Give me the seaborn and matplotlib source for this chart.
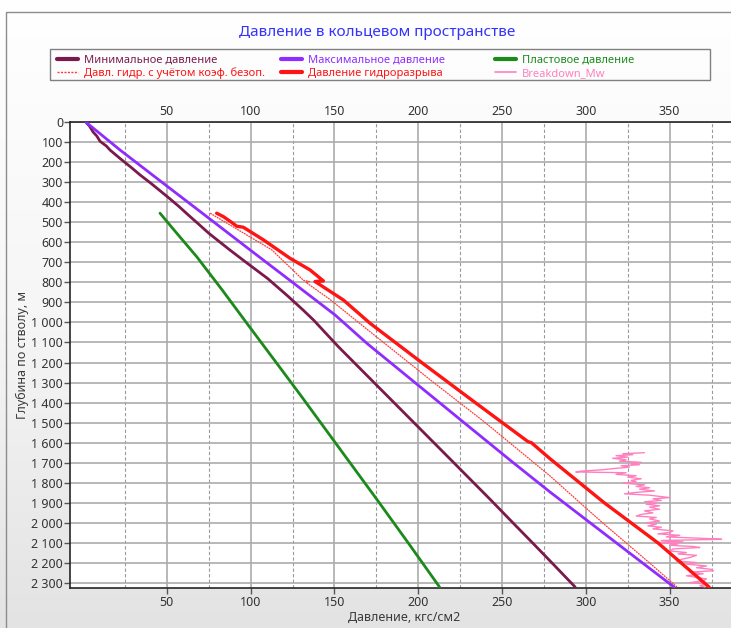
import numpy as np
import pandas as pd
import matplotlib
matplotlib.use("Agg")
import matplotlib.pyplot as plt
import seaborn as sns
from matplotlib.lines import Line2D
from matplotlib.patches import Rectangle
from matplotlib.colors import LinearSegmentedColormap
from matplotlib.ticker import FuncFormatter, MultipleLocator, FixedLocator

# -----------------------------
# data (depth along wellbore, m / pressure, kgf/cm2)
# -----------------------------
min_depth = [0, 20, 50, 70, 96, 120, 140, 185, 230, 264, 306, 340, 381, 420, 464, 510,
             555, 638, 705, 780, 871, 936, 988, 1121, 1300, 1500, 1700, 1882, 2000, 2100, 2200, 2320]
min_press = [1.6, 3.8, 6.0, 8.2, 10.1, 13.9, 16.1, 22.5, 29.2, 34.0, 40.5, 45.5, 51.5, 57.0,
             62.8, 69.0, 75.0, 87.5, 98.0, 110.0, 122.5, 131.0, 137.5, 152.3, 173.6, 197.4,
             221.2, 242.8, 256.5, 268.2, 279.8, 293.6]

max_depth = [0, 140, 306, 472, 638, 797, 963, 1104, 1300, 1500, 1700, 1846, 2000, 2200, 2320]
max_press = [1.6, 22.1, 47.9, 73.8, 99.6, 124.5, 150.4, 169.3, 198.0, 227.3, 256.7, 278.6,
             302.6, 333.8, 352.6]

plast_depth = [455, 555, 672, 838, 1004, 1137, 1360, 1600, 1882, 2100, 2320]
plast_press = [45.9, 55.9, 67.8, 83.0, 97.7, 109.6, 129.5, 150.5, 175.2, 194.0, 212.7]

hydr_depth = [455, 514, 638, 790, 796, 800, 886, 1046, 1300, 1500, 1766, 2000, 2200, 2320]
hydr_press = [75.8, 87.7, 112.6, 131.5, 135.0, 133.0, 147.4, 171.2, 209.2, 240.0, 278.6,
              310.0, 338.0, 354.4]

frac_depth = [455, 472, 500, 520, 525, 588, 680, 738, 793, 796, 888, 1004, 1200, 1400, 1595,
              1600, 1680, 1900, 2100, 2320]
frac_press = [79.7, 83.7, 88.5, 91.7, 95.6, 107.6, 123.5, 135.4, 143.4, 138.4, 155.3, 171.2,
              202.0, 234.0, 265.5, 267.5, 278.6, 311.0, 343.0, 373.5]

mw_depth = [1650, 1655, 1660, 1665, 1672, 1678, 1685, 1692, 1698, 1705, 1710, 1715, 1722, 1728,
            1735, 1742, 1746, 1750, 1758, 1765, 1772, 1780, 1788, 1795, 1802, 1810, 1818, 1825,
            1832, 1841, 1848, 1855, 1862, 1868, 1874, 1880, 1888, 1895, 1902, 1907, 1915, 1922,
            1932, 1940, 1950, 1958, 1966, 1973, 1980, 1991, 2000, 2007, 2015, 2022, 2030, 2040,
            2048, 2055, 2062, 2070, 2078, 2082, 2088, 2095, 2098, 2105, 2112, 2118, 2123, 2130,
            2140, 2148, 2155, 2162, 2173, 2180, 2190, 2198, 2206, 2215, 2224, 2232, 2239, 2246,
            2254, 2264, 2272, 2280, 2289, 2298, 2306, 2314, 2320]
mw_press = [335, 322, 328, 318, 325, 316, 324, 320, 333, 327, 332, 321, 326, 318,
            310, 297, 294, 324, 318, 330, 325, 333, 327, 330, 322, 335, 330, 338,
            332, 341, 330, 323, 338, 344, 350, 340, 345, 335, 342, 336, 344, 338,
            344, 335, 340, 333, 330, 342, 338, 344, 336, 342, 337, 345, 340, 352,
            350, 343, 356, 348, 372, 381, 345, 358, 342, 355, 350, 364, 368, 352,
            350, 360, 355, 366, 362, 358, 354, 366, 360, 372, 366, 375, 376, 362,
            370, 360, 366, 372, 370, 362, 372, 368, 371]

x_major = [50, 100, 150, 200, 250, 300, 350]
x_minor = [25, 75, 125, 175, 225, 275, 325, 375]

labels = ["Минимальное давление", "Давл. гидр. с учётом коэф. безоп.",
          "Максимальное давление", "Давление гидроразрыва",
          "Пластовое давление", "Breakdown_Mw"]
colors = {"min": "#7a1a4c", "max": "#8f2cff", "plast": "#1b8a1b",
          "hydr": "#ff3c3c", "frac": "#ff1414", "mw": "#ff80bf"}

# -----------------------------
# figure
# -----------------------------
sns.set_style("white")
plt.rcParams["font.family"] = ["Noto Sans", "DejaVu Sans"]

W, H = 731, 628
fig = plt.figure(figsize=(W / 100, H / 100), dpi=100)

# background gradient
bg = fig.add_axes([0, 0, 1, 1], zorder=-5)
cmap = LinearSegmentedColormap.from_list("bg", ["#ffffff", "#f6f6f6", "#e3e3e3"])
bg.imshow(np.linspace(0, 1, 256)[:, None], cmap=cmap, aspect="auto", extent=[0, 1, 0, 1])
bg.set_axis_off()

# outer border
fig.add_artist(Rectangle((5.5 / W, -0.05), 1.1, (H - 12) / H + 0.05, transform=fig.transFigure,
                         fill=False, edgecolor="#8c8c8c", lw=1.0))

AX_W = W - 70 + 7
ax = fig.add_axes([70 / W, (H - 588) / H, AX_W / W, (588 - 122) / H])
ax.set_facecolor("white")

series = [
    (min_press, min_depth, colors["min"], 2.0, "-"),
    (max_press, max_depth, colors["max"], 2.0, "-"),
    (plast_press, plast_depth, colors["plast"], 2.0, "-"),
    (mw_press, mw_depth, colors["mw"], 1.0, "-"),
    (hydr_press, hydr_depth, colors["hydr"], 0.9, (0, (1.5, 0.6))),
    (frac_press, frac_depth, colors["frac"], 2.4, "-"),
]
for xs, ys, c, lw, ls in series:
    d = pd.DataFrame({"p": xs, "z": ys})
    sns.lineplot(data=d, x="p", y="z", sort=False, estimator=None, color=c,
                 linewidth=lw, linestyle=ls, ax=ax, zorder=3)

ax.set_xlim(-7.8, -7.8 + AX_W / 1.676)
ax.set_ylim(2325, 0)

ax.xaxis.set_major_locator(FixedLocator(x_major))
ax.xaxis.set_minor_locator(FixedLocator(x_minor))
ax.yaxis.set_major_locator(MultipleLocator(100))
ax.yaxis.set_major_formatter(FuncFormatter(lambda v, p: f"{int(v):,}".replace(",", " ")))

ax.grid(True, which="major", axis="both", color="#ababab", lw=1.2, ls="-", zorder=0)
ax.grid(True, which="minor", axis="x", color="#999999", lw=0.8, ls=(0, (3, 2)), zorder=0)
ax.set_axisbelow(True)

ax.tick_params(axis="x", which="major", bottom=True, top=False, labeltop=False,
               length=4, width=1, color="#555555", pad=2, labelsize=9, labelcolor="#333333")
ax.tick_params(axis="x", which="minor", bottom=False, top=False)
ax.tick_params(axis="y", which="major", left=True, length=4, width=1, color="#555555",
               pad=1, labelsize=9, labelcolor="#333333")

# top labels
sec = ax.secondary_xaxis("top")
sec.set_xticks(x_major)
sec.tick_params(axis="x", length=0, pad=3, labelsize=9, labelcolor="#333333")
sec.spines["top"].set_visible(False)

for side in ["left", "bottom", "top"]:
    ax.spines[side].set_color("#262626")
    ax.spines[side].set_linewidth(1.2)
ax.spines["right"].set_visible(False)

ax.set_xlabel("Давление, кгс/см2", fontsize=9, color="#3a3a3a")
ax.set_ylabel("Глубина по стволу, м", fontsize=9, color="#3a3a3a")
ax.xaxis.set_label_coords(((346 + 462) / 2 - 70) / AX_W, -(611 - 588) / 466)
ax.yaxis.set_label_coords(-(70 - 29) / AX_W, 0.5)

# title
fig.text(377 / W, (H - 32) / H, "Давление в кольцевом пространстве", ha="center", va="center",
         fontsize=11, color="#3333ff")

# legend frame
fig.add_artist(Rectangle((50 / W, (H - 80) / H), 660 / W, 31 / H, transform=fig.transFigure,
                         fill=False, edgecolor="#808080", lw=1.0))

handles = [
    Line2D([], [], color=colors["min"], lw=3),
    Line2D([], [], color=colors["hydr"], lw=1, ls=(0, (1.5, 1))),
    Line2D([], [], color=colors["max"], lw=3),
    Line2D([], [], color=colors["frac"], lw=3),
    Line2D([], [], color=colors["plast"], lw=3),
    Line2D([], [], color=colors["mw"], lw=1.2),
]
text_colors = [colors["min"], "#ff1414", colors["max"], "#ff1414", colors["plast"], colors["mw"]]
col_x = [57, 281, 495]
for i in range(3):
    fig.legend(handles[2 * i:2 * i + 2], labels[2 * i:2 * i + 2], loc="upper left",
               bbox_to_anchor=(col_x[i] / W, (H - 55) / H), frameon=False, fontsize=8,
               labelcolor=text_colors[2 * i:2 * i + 2], handlelength=1.9, handletextpad=0.55,
               labelspacing=0.15, borderpad=0, borderaxespad=0)

plt.savefig("out.png", dpi=100)
